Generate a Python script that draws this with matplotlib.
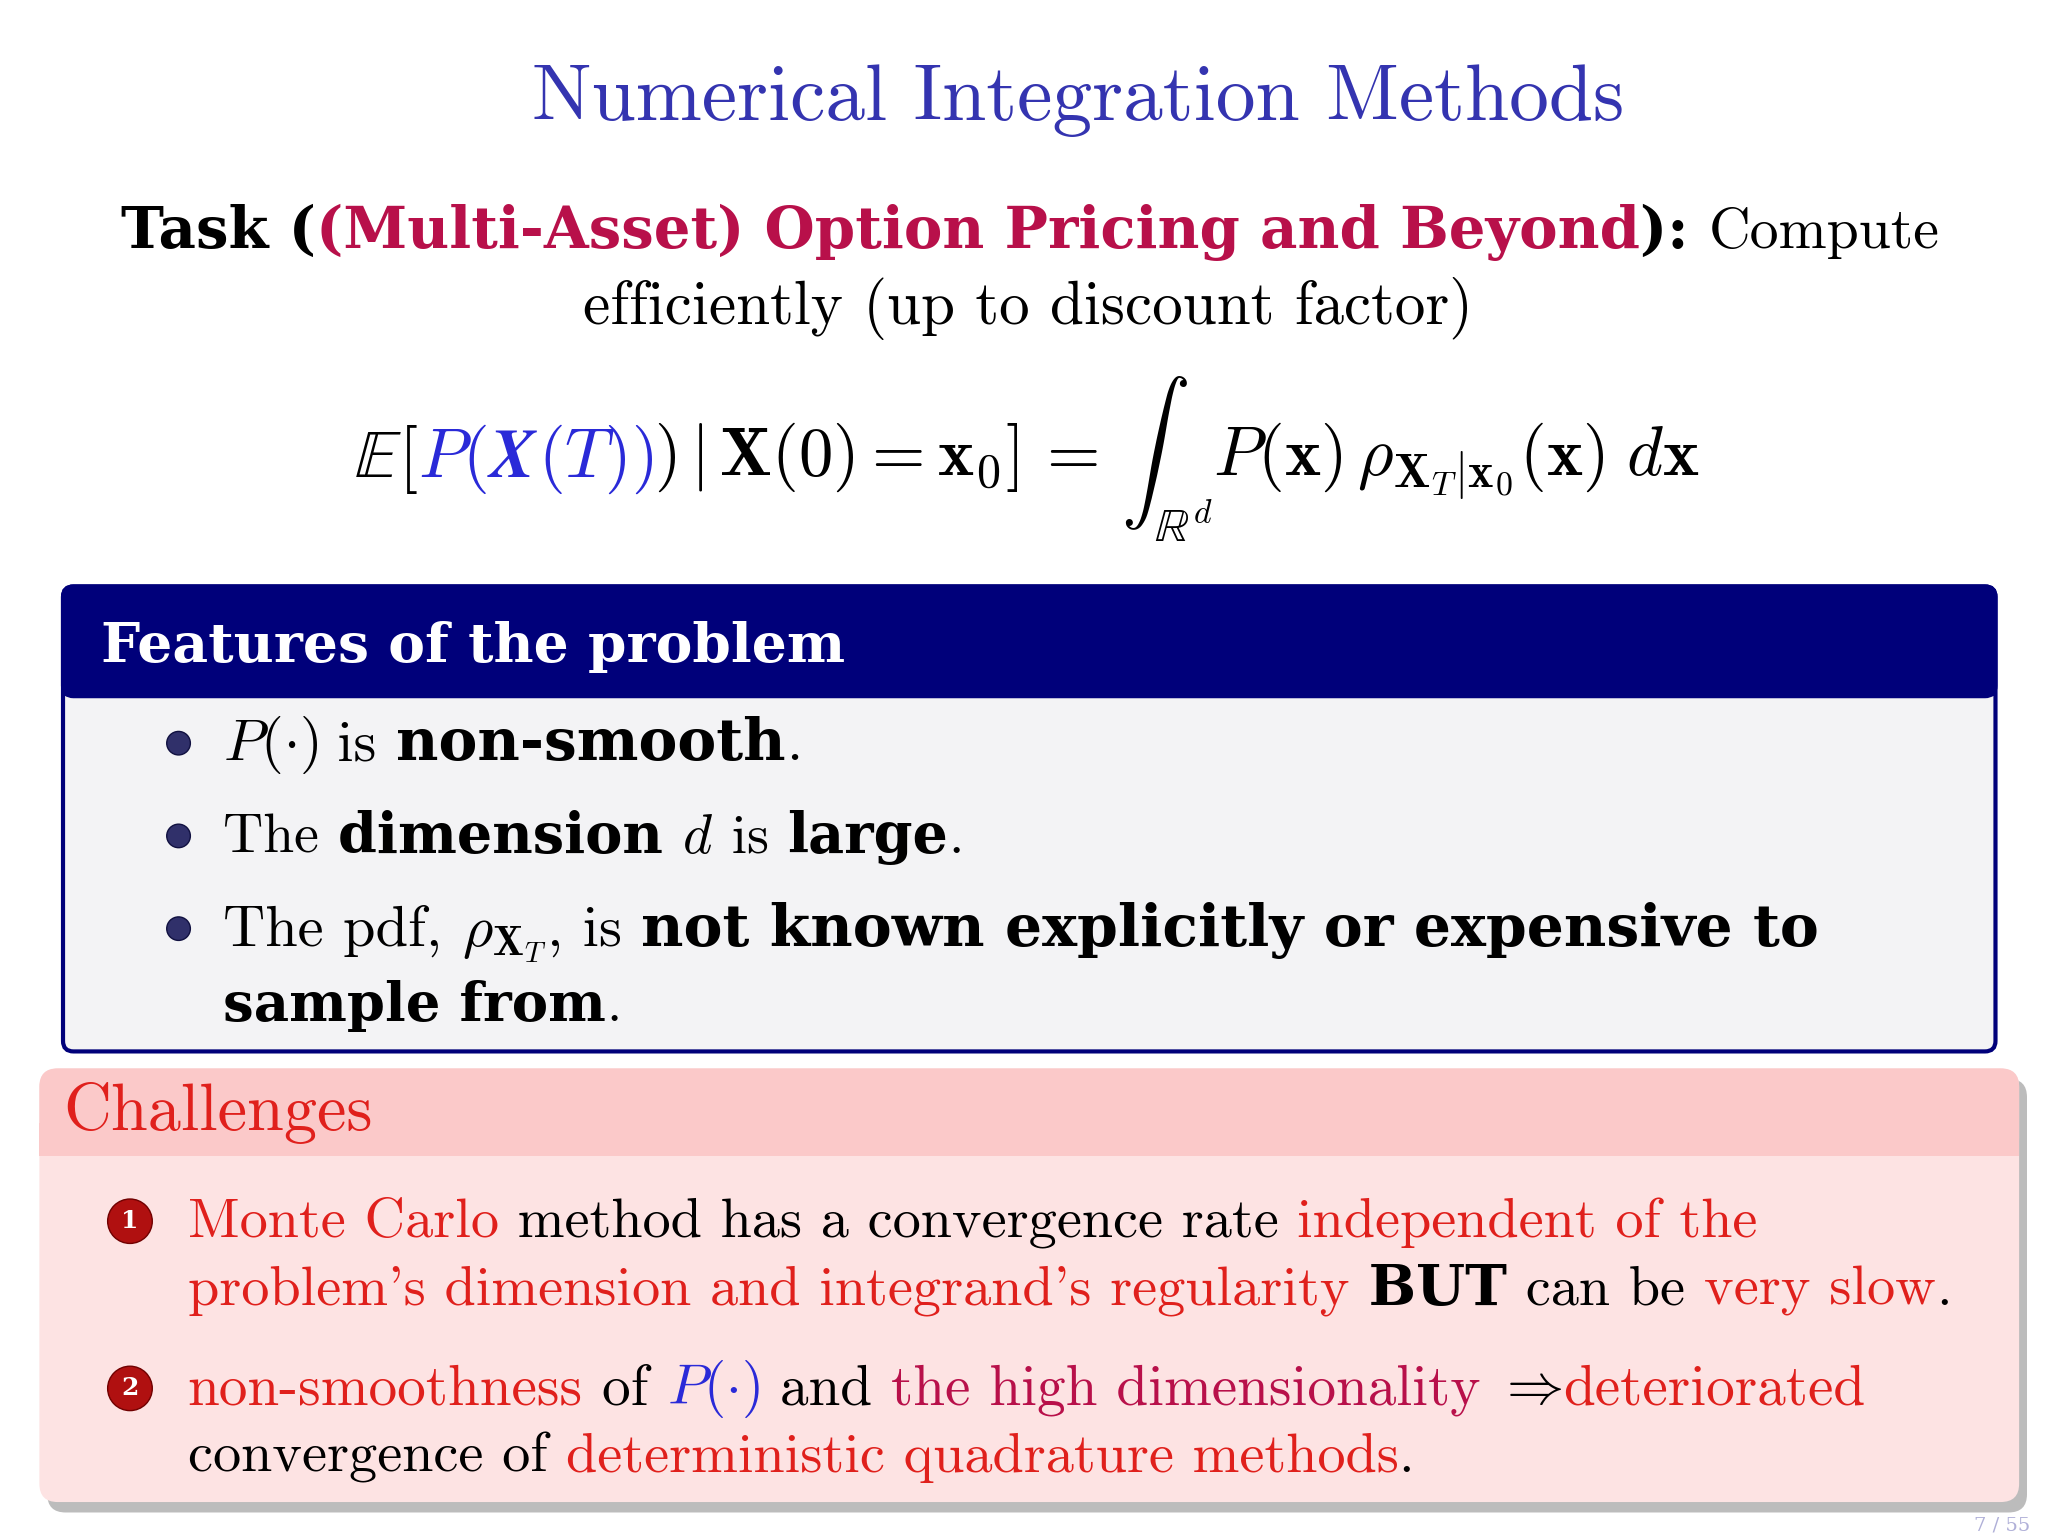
import matplotlib
matplotlib.use("Agg")
import matplotlib.pyplot as plt
from matplotlib.patches import FancyBboxPatch, Circle, Rectangle

plt.rcParams['mathtext.fontset'] = 'cm'

W, H = 1560, 1176
BLUE = '#2a2ad8'; RED = '#e0201c'; CRIM = '#b8104a'; NAVY = '#00007a'; TBLUE = '#3434b0'

title = "Numerical Integration Methods"
task_line = [("Task (", 'b', 'black'), ("(Multi-Asset) Option Pricing and Beyond", 'b', CRIM),
             ("): ", 'b', 'black'), ("Compute", 'r', 'black')]
task_line2 = [("efficiently (up to discount factor)", 'r', 'black')]
equation = [(r"$\mathbb{E}[$", 'm', 'black'), (r"$P($", 'm', BLUE), (r"$\boldsymbol{X}$", 'm', BLUE),
            (r"$(T))$", 'm', BLUE), (r"$)\,|\,\mathbf{X}(0)=\mathbf{x}_0]\,=\,\int_{\mathbb{R}^d}P(\mathbf{x})\,\rho_{\mathbf{X}_T|\mathbf{x}_0}(\mathbf{x})\;d\mathbf{x}$", 'm', 'black')]
features_title = "Features of the problem"
bullets = [
    [[(r"$P(\cdot)$", 'm', 'black'), (" is ", 'r', 'black'), ("non-smooth", 'b', 'black'), (".", 'r', 'black')]],
    [[("The ", 'r', 'black'), ("dimension ", 'b', 'black'), (r"$d$", 'm', 'black'), (" is ", 'r', 'black'),
      ("large", 'b', 'black'), (".", 'r', 'black')]],
    [[("The pdf, ", 'r', 'black'), (r"$\rho_{\mathbf{X}_T}$", 'm', 'black'), (", is ", 'r', 'black'),
      ("not known explicitly or expensive to", 'b', 'black')],
     [("sample from", 'b', 'black'), (".", 'r', 'black')]],
]
bullet_ends = [[612], [736], [1388, 473]]
challenges_title = "Challenges"
challenges = [
    [[("Monte Carlo", 'r', RED), (" method has a convergence rate ", 'r', 'black'), ("independent of the", 'r', RED)],
     [("problem's dimension and integrand's regularity", 'r', RED), (" BUT", 'b', 'black'),
      (" can be ", 'r', 'black'), ("very slow", 'r', RED), (".", 'r', 'black')]],
    [[("non-smoothness", 'r', RED), (" of ", 'r', 'black'), (r"$P(\cdot)$", 'm', BLUE), (" and ", 'r', 'black'),
      ("the high dimensionality", 'r', CRIM), (r"$\ \Rightarrow\ $", 'm', 'black'), ("deteriorated", 'r', RED)],
     [("convergence of ", 'r', 'black'), ("deterministic quadrature methods", 'r', RED), (".", 'r', 'black')]],
]
challenge_ends = [[1340, 1488], [1422, 1078]]

fig = plt.figure(figsize=(20.48, 15.36), dpi=100)
ax = fig.add_axes([0, 0, 1, 1])
ax.set_xlim(0, W); ax.set_ylim(H, 0); ax.axis('off')
r = fig.canvas.get_renderer()
FAM = {'r': ['cmr10', 'DejaVu Serif'], 'b': ['DejaVu Serif'], 'm': ['cmr10', 'DejaVu Serif']}
WT = {'r': 'normal', 'b': 'bold', 'm': 'normal'}

def place(x, y, segs, size):
    arts = []; cx = x
    for txt, st, col in segs:
        t = ax.text(cx, y, txt, fontsize=size, family=FAM[st], weight=WT[st], color=col,
                    va='baseline', ha='left')
        bb = t.get_window_extent(r).transformed(ax.transData.inverted())
        cx += bb.x1 - bb.x0
        arts.append(t)
    return arts, cx

def draw(x, y, segs, size, x_end=None, center=False):
    arts, cx = place(x, y, segs, size)
    if x_end is not None:
        f = (x_end - x) / (cx - x)
        for a in arts: a.remove()
        arts, cx = place(x, y, segs, size * f)
    if center:
        total = cx - x
        for a in arts:
            a.set_x(a.get_position()[0] - total / 2)
    return arts

draw(405, 92, [(title, 'r', TBLUE)], 46, x_end=1237)
a = draw(92, 190, task_line, 35, x_end=1478)
draw(444, 248, task_line2, 35, x_end=1122)
draw(270, 365, equation, 34, x_end=1298)

# Features box
ax.add_patch(FancyBboxPatch((48, 449), 1472, 356, boxstyle="round,pad=0,rounding_size=8",
                            fc='#f3f3f5', ec=NAVY, lw=3, zorder=0))
ax.add_patch(FancyBboxPatch((48, 449), 1472, 84, boxstyle="round,pad=0,rounding_size=8",
                            fc=NAVY, ec=NAVY, lw=3, zorder=0))
ax.add_patch(Rectangle((48, 515), 1472, 18, fc=NAVY, ec='none', zorder=0))
draw(77, 507, [(features_title, 'b', 'white')], 34, x_end=643)
by = [582, 653, 724]
for yb, lines, ends in zip(by, bullets, bullet_ends):
    ax.add_patch(Circle((136, yb - 13), 9, fc='#30306a', ec='#101040', zorder=3))
    for i, (ln, xe) in enumerate(zip(lines, ends)):
        draw(170, yb + i * 58, ln, 35, x_end=xe)

# Challenges box (shadow)
ax.add_patch(FancyBboxPatch((36, 826), 1508, 332, boxstyle="round,pad=0,rounding_size=14",
                            fc='#7a7a7a', ec='none', alpha=0.5, zorder=0))
ax.add_patch(FancyBboxPatch((30, 818), 1508, 332, boxstyle="round,pad=0,rounding_size=14",
                            fc='#fde3e3', ec='none', zorder=0))
ax.add_patch(FancyBboxPatch((30, 818), 1508, 67, boxstyle="round,pad=0,rounding_size=14",
                            fc='#fbc9c9', ec='none', zorder=0))
ax.add_patch(Rectangle((30, 860), 1508, 25, fc='#fbc9c9', ec='none', zorder=0))
draw(48, 865, [(challenges_title, 'r', RED)], 37, x_end=283)
cy = [947, 1075]
for k, (yc, lines, ends) in enumerate(zip(cy, challenges, challenge_ends)):
    ax.add_patch(Circle((99, yc - 12), 17, fc='#b01010', ec='#700000', zorder=3))
    ax.text(99, yc - 12, str(k + 1), fontsize=18, family='DejaVu Serif', weight='bold',
            color='white', ha='center', va='center', zorder=4)
    for i, (ln, xe) in enumerate(zip(lines, ends)):
        draw(143, yc + i * 52, ln, 35, x_end=xe)

ax.text(1525, 1172, "7 / 55", fontsize=14, family='DejaVu Serif', color='#b0b0d8', ha='center', va='baseline')
fig.savefig("out.png", dpi=100)
